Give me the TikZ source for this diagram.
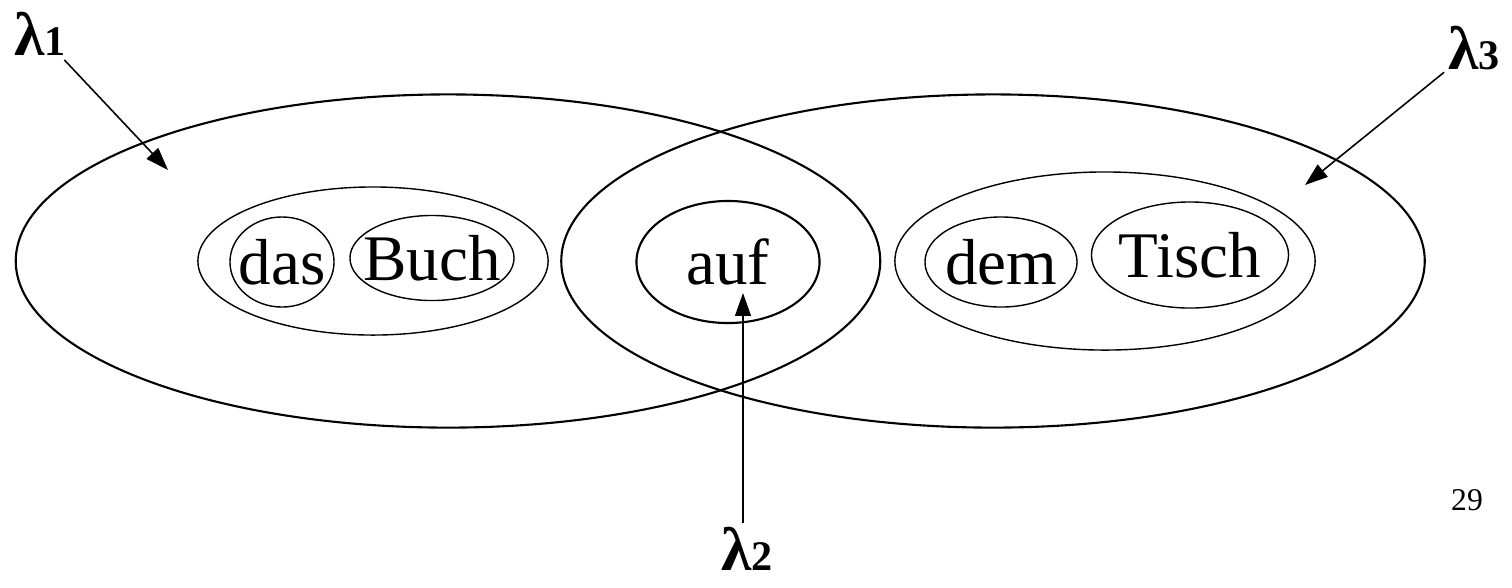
\documentclass[tikz,border=0pt]{standalone}
\usepackage{fontspec}
\setmainfont{Liberation Serif}
\usetikzlibrary{arrows.meta,positioning,shapes.geometric}
\tikzset{
  setbox/.style={draw,ellipse,inner sep=0pt,line width=0.6pt},
  groupbox/.style={draw,ellipse,inner sep=0pt,line width=0.4pt},
  wordbox/.style={draw,ellipse,inner sep=0pt,line width=0.4pt,label={[wordtext]center:#1}},
  wordtext/.style={inner sep=0pt,font=\fontsize{18.5}{20}\selectfont},
  lamlabel/.style={inner sep=1pt,font=\fontsize{17.5}{19}\selectfont},
  pointer/.style={line width=0.45pt,-{Triangle[length=6.5pt,width=4.5pt]}}
}
\newcommand{\lamsub}[1]{{\bfseries λ}{\fontsize{12}{13}\selectfont\bfseries #1}}
\begin{document}
\begin{tikzpicture}[x=0.01cm,y=-0.01cm]
\useasboundingbox (0,0) rectangle (1512,587);
% two overlapping sets
\node[setbox,minimum width=8.64cm,minimum height=3.33cm] (setl) at (448,261) {};
\node[setbox,minimum width=8.63cm,minimum height=3.33cm] (setr) at (993,261) {};
% left phrase
\node[groupbox,minimum width=3.50cm,minimum height=1.48cm] (npl) at (373,261) {};
\node[wordbox=das,minimum width=1.04cm,minimum height=0.90cm] (das) at (282,262) {};
\node[wordbox=Buch,minimum width=1.64cm,minimum height=0.85cm] (buch) at (432,258) {};
% preposition
\node[wordbox=auf,line width=0.6pt,minimum width=1.83cm,minimum height=1.22cm] (auf) at (728,262) {};
% right phrase
\node[groupbox,minimum width=4.20cm,minimum height=1.78cm] (npr) at (1105,261) {};
\node[wordbox=dem,minimum width=1.52cm,minimum height=0.90cm] (dem) at (1001,262) {};
\node[wordbox=Tisch,minimum width=1.97cm,minimum height=1.06cm] (tisch) at (1190,255) {};
% labels
\node[lamlabel] (lam1) at (40,34) {\lamsub{1}};
\node[lamlabel] (lam2) at (747,549) {\lamsub{2}};
\node[lamlabel] (lam3) at (1474,48) {\lamsub{3}};
\node[font=\fontsize{9}{10}\selectfont] (page) at (1467,500) {29};
\coordinate (tip1) at (168,170);
\coordinate (tip2) at (743,293);
\coordinate (tip3) at (1305,185);
\draw[pointer] (lam1) -- (tip1);
\draw[pointer] (lam2.north -| tip2) -- (tip2);
\draw[pointer] (lam3) -- (tip3);
\end{tikzpicture}
\end{document}
